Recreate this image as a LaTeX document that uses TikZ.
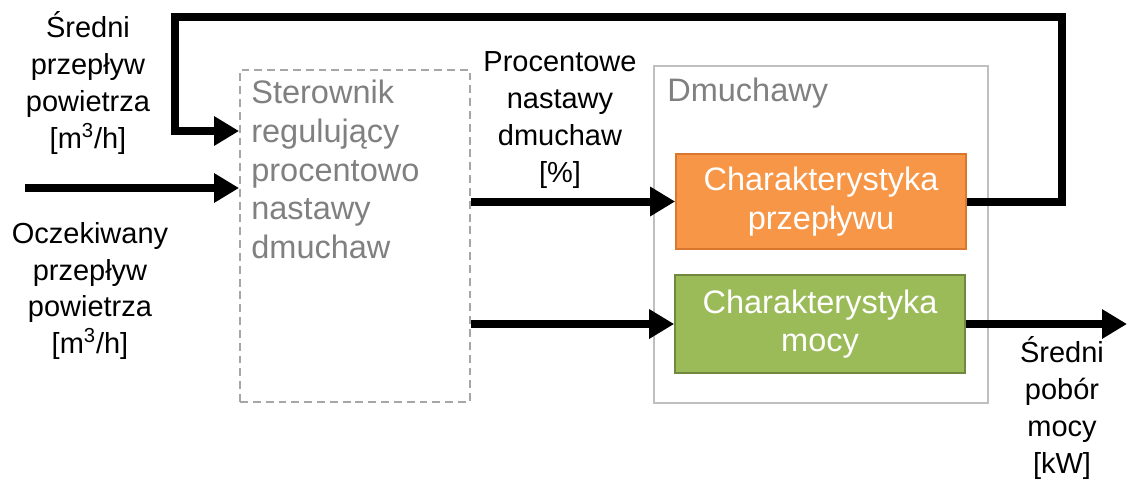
\documentclass[tikz,border=0pt]{standalone}
\usepackage{fontspec}
\setmainfont{Liberation Sans}
\usetikzlibrary{arrows.meta}

\definecolor{flowfill}{HTML}{F79646}
\definecolor{flowedge}{HTML}{D9772F}
\definecolor{powerfill}{HTML}{9BBB59}
\definecolor{poweredge}{HTML}{71893F}

\begin{document}
\begin{tikzpicture}[x=0.02cm, y=-0.02cm, >={Triangle[length=0.5cm, width=0.56cm]}]

  % Styles for signal lines, captions and blocks
  \tikzset{
    signal/.style={line width=0.16cm, ->},
    sigtext/.style={align=center, inner sep=0pt, font=\fontsize{16.5}{21}\selectfont},
    graytext/.style={align=left, inner sep=0pt, text=black!50, font=\fontsize{18.5}{22}\selectfont},
    block/.style={minimum width=5.8cm, minimum height=1.9cm, line width=1pt, text=white,
      align=center, font=\fontsize{18.5}{22}\selectfont}
  }

  \useasboundingbox (0,0) rectangle (1127,481);

  % 1. Controller and blower groups
  \node[draw=black!35, dash pattern=on 4.5pt off 2.8pt, line width=1.1pt,
    minimum width=4.6cm, minimum height=6.64cm] (ctrl) at (355,236) {};
  \node[graytext, anchor=north west] (ctrltxt) at (251,80)
    {Sterownik\\regulujący\\procentowo\\nastawy\\dmuchaw};

  \node[draw=black!25, line width=1.1pt,
    minimum width=6.68cm, minimum height=6.74cm] (blowers) at (821,234.5) {};
  \node[graytext, anchor=north west] (blwtxt) at (667,78) {Dmuchawy};

  % 2. Characteristics inside the blower group
  \node[block, fill=flowfill, draw=flowedge] (flow) at (821,201.5) {Charakterystyka\\przepływu};
  \node[block, fill=powerfill, draw=poweredge, minimum height=1.96cm] (power) at (820,324)
    {Charakterystyka\\mocy};

  % 3. Signal captions
  \node[sigtext] (avg) at (88,83) {Średni\\przepływ\\powietrza\\{[m\textsuperscript{3}/h]}};
  \node[sigtext] (exp) at (90,291) {Oczekiwany\\przepływ\\powietrza\\{[m\textsuperscript{3}/h]}};
  \node[sigtext] (pct) at (560,120) {Procentowe\\nastawy\\dmuchaw\\{[\%]}};
  \node[sigtext] (pow) at (1062,408) {Średni\\pobór\\mocy\\{[kW]}};

  % --- SIGNAL LINES ---
  \coordinate (in) at (25,188);
  \coordinate (fbR) at (1062,17);
  \coordinate (fbL) at (175,131);
  \coordinate (out) at (1127,324);

  % Expected air flow into the controller
  \draw[signal] (in) -- (ctrl.west |- in);

  % Controller outputs to both characteristics
  \draw[signal] (ctrl.east |- flow.west) -- (flow.west);
  \draw[signal] (ctrl.east |- power.west) -- (power.west);

  % Feedback of the mean air flow
  \draw[signal] (flow.east) -| (fbR) -| (fbL) -- (ctrl.west |- fbL);

  % Mean power draw
  \draw[signal] (power.east) -- (out);

\end{tikzpicture}
\end{document}
